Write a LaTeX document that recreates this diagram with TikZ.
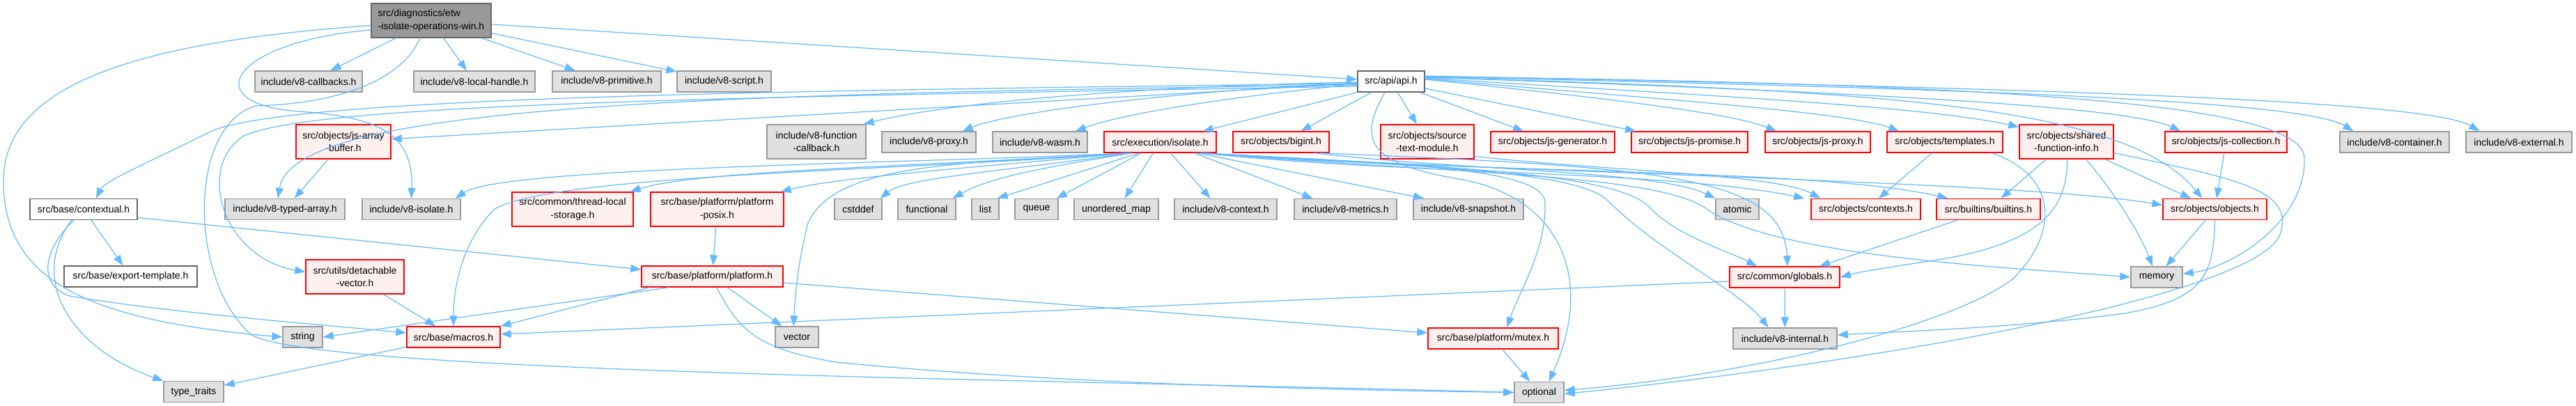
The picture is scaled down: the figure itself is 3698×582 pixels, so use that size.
\documentclass[tikz,border=0pt]{standalone}
\usepackage{fontspec}
\setmainfont{Liberation Sans}
\usetikzlibrary{arrows.meta}
\definecolor{edgec}{HTML}{63B8FF}
\definecolor{rfill}{HTML}{FFF0F0}
\definecolor{rborder}{HTML}{FF0000}
\definecolor{gfill}{HTML}{E0E0E0}
\definecolor{gborder}{HTML}{999999}
\definecolor{dborder}{HTML}{666666}
\definecolor{rootfill}{HTML}{999999}
\tikzset{
  nbase/.style={draw, line width=1.4pt, inner sep=0pt, font=\fontsize{14}{18.3}\selectfont, align=center, text=black},
  rn/.style={nbase, fill=rfill, draw=rborder},
  gn/.style={nbase, fill=gfill, draw=gborder},
  wn/.style={nbase, fill=white, draw=dborder},
  rootn/.style={nbase, fill=rootfill, draw=dborder, align=left},
  edge/.style={draw=edgec, line width=1.2pt, -{Triangle[length=15pt,width=11pt]}}
}
\newcommand\mknode[7]{\node[#1, minimum width=#5pt, minimum height=#6pt] (#2) at (#3,#4) {#7};}
\begin{document}
\begin{tikzpicture}[x=1pt,y=-1pt]
\useasboundingbox (0,0) rectangle (3698,582);
% row 0
\mknode{rootn}{etw}{619}{29.5}{172}{49}{src/diagnostics/etw\\-isolate-operations-win.h}
% row 1
\mknode{gn}{callbacks}{443}{117}{154}{30}{include/v8-callbacks.h}
\mknode{gn}{localhandle}{681}{117}{174}{30}{include/v8-local-handle.h}
\mknode{gn}{primitive}{871}{117}{156}{30}{include/v8-primitive.h}
\mknode{gn}{script}{1039.5}{117}{135}{30}{include/v8-script.h}
\mknode{wn}{api}{1997}{117}{96}{30}{src/api/api.h}
% row 2
\mknode{rn}{jsab}{493}{203.5}{136}{49}{src/objects/js-array\\-buffer.h}
\mknode{gn}{fcb}{1172}{203.5}{142}{49}{include/v8-function\\-callback.h}
\mknode{gn}{proxy}{1333.5}{204}{135}{30}{include/v8-proxy.h}
\mknode{gn}{wasm}{1493}{204}{136}{30}{include/v8-wasm.h}
\mknode{rn}{isolate}{1665.5}{204}{161}{30}{src/execution/isolate.h}
\mknode{rn}{bigint}{1839}{204}{138}{30}{src/objects/bigint.h}
\mknode{rn}{sourcetext}{2049}{203.5}{134}{49}{src/objects/source\\-text-module.h}
\mknode{rn}{jsgen}{2229}{204}{178}{30}{src/objects/js-generator.h}
\mknode{rn}{jspromise}{2425.5}{204}{167}{30}{src/objects/js-promise.h}
\mknode{rn}{jsproxy}{2609.5}{204}{151}{30}{src/objects/js-proxy.h}
\mknode{rn}{templates}{2792}{204}{166}{30}{src/objects/templates.h}
\mknode{rn}{sfi}{2966.5}{203.5}{135}{49}{src/objects/shared\\-function-info.h}
\mknode{rn}{jscoll}{3195.5}{204}{175}{30}{src/objects/js-collection.h}
\mknode{gn}{container}{3437.5}{204}{157}{30}{include/v8-container.h}
\mknode{gn}{external}{3616}{204}{152}{30}{include/v8-external.h}
% row 3
\mknode{wn}{contextual}{120}{300.5}{154}{30}{src/base/contextual.h}
\mknode{gn}{typedarray}{409}{300.5}{172}{30}{include/v8-typed-array.h}
\mknode{gn}{v8isolate}{590.5}{300.5}{141}{30}{include/v8-isolate.h}
\mknode{rn}{tls}{822}{300.5}{174}{49}{src/common/thread-local\\-storage.h}
\mknode{rn}{posix}{1029.5}{300.5}{191}{49}{src/base/platform/platform\\-posix.h}
\mknode{gn}{cstddef}{1232}{300.5}{68}{30}{cstddef}
\mknode{gn}{functional}{1330.5}{300.5}{83}{30}{functional}
\mknode{gn}{list}{1414.5}{300.5}{39}{30}{list}
\mknode{gn}{queue}{1488}{300.5}{62}{30}{queue}
\mknode{gn}{umap}{1602.5}{300.5}{121}{30}{unordered\_map}
\mknode{gn}{v8context}{1759.5}{300.5}{147}{30}{include/v8-context.h}
\mknode{gn}{metrics}{1931.5}{300.5}{147}{30}{include/v8-metrics.h}
\mknode{gn}{snapshot}{2108}{300.5}{158}{30}{include/v8-snapshot.h}
\mknode{gn}{atomic}{2494}{300.5}{62}{30}{atomic}
\mknode{rn}{contexts}{2678.5}{300.5}{157}{30}{src/objects/contexts.h}
\mknode{rn}{builtins}{2854.5}{300.5}{149}{30}{src/builtins/builtins.h}
\mknode{rn}{objects}{3179.5}{300.5}{149}{30}{src/objects/objects.h}
% row 4
\mknode{wn}{exporttemplate}{187.5}{397}{191}{30}{src/base/export-template.h}
\mknode{rn}{detachable}{509.5}{397.5}{141}{49}{src/utils/detachable\\-vector.h}
\mknode{rn}{platform}{1022.5}{397}{203}{30}{src/base/platform/platform.h}
\mknode{rn}{globals}{2562}{398}{158}{30}{src/common/globals.h}
\mknode{gn}{memory}{3096}{398}{74}{30}{memory}
% row 5
\mknode{gn}{string}{434.5}{484}{57}{30}{string}
\mknode{rn}{macros}{651}{484}{134}{30}{src/base/macros.h}
\mknode{gn}{vector}{1144}{484}{62}{30}{vector}
\mknode{rn}{mutex}{2143.5}{486}{187}{30}{src/base/platform/mutex.h}
\mknode{gn}{v8internal}{2562.5}{486}{149}{30}{include/v8-internal.h}
% row 6
\mknode{gn}{typetraits}{278}{562.5}{86}{30}{type\_traits}
\mknode{gn}{optional}{2209.5}{563.5}{71}{30}{optional}

% ---- edges from etw
\draw[edge] (etw) -- (callbacks);
\draw[edge] (etw) -- (localhandle);
\draw[edge] (etw) -- (primitive);
\draw[edge] (etw) -- (script);
\draw[edge] (etw) -- (api);
\draw[edge] ([yshift=-7pt]etw.west) .. controls (200,60) and (5,120) .. (5,260) .. controls (5,400) and (120,460) .. (string.west);
\draw[edge] ([yshift=-13.5pt]etw.west) .. controls (330,60) and (280,150) .. (430,160) .. controls (540,168) and (594,190) .. (v8isolate.north);
\draw[edge] ([xshift=-16pt]etw.south) .. controls (570,130) and (450,150) .. (367,152) .. controls (270,180) and (270,400) .. (360,480) .. controls (440,535) and (1500,545) .. (optional.west);

% ---- edges from api
\draw[edge] (api) -- (jsab);
\draw[edge] ([yshift=-5pt]api.west) .. controls (1000,135) and (420,150) .. ([xshift=-10pt]typedarray.north);
\draw[edge] ([yshift=-3pt]api.west) .. controls (1100,130) and (400,140) .. (300,190) .. controls (220,230) and (150,260) .. ([xshift=18pt]contextual.north);
\draw[edge] ([yshift=-7pt]api.west) .. controls (1000,140) and (450,150) .. (350,195) .. controls (280,240) and (320,370) .. ([yshift=7pt]detachable.west);
\draw[edge] ([yshift=-1pt]api.west) .. controls (1600,125) and (1350,150) .. ([xshift=-4pt]fcb.north east);
\draw[edge] ([yshift=-2pt]api.west) .. controls (1700,130) and (1450,160) .. ([xshift=-20pt]proxy.north east);
\draw[edge] ([yshift=-4pt]api.west) .. controls (1800,135) and (1620,160) .. ([xshift=-18pt]wasm.north east);
\draw[edge] (api.south west) -- ([xshift=-20pt]isolate.north east);
\draw[edge] (api) -- (bigint);
\draw[edge] (api) -- (sourcetext);
\draw[edge] (api) -- (jsgen);
\draw[edge] (api) -- (jspromise);
\draw[edge] ([yshift=3pt]api.east) .. controls (2250,135) and (2480,160) .. ([xshift=17pt]jsproxy.north west);
\draw[edge] ([yshift=4pt]api.east) .. controls (2350,140) and (2650,160) .. ([xshift=18pt]templates.north west);
\draw[edge] ([yshift=5pt]api.east) .. controls (2400,135) and (2750,150) .. ([yshift=-4pt]sfi.north west);
\draw[edge] ([yshift=6pt]api.east) .. controls (2600,130) and (3050,150) .. ([xshift=23pt]jscoll.north west);
\draw[edge] ([yshift=7pt]api.east) .. controls (2700,125) and (3300,140) .. ([xshift=20pt]container.north west);
\draw[edge] ([yshift=8pt]api.east) .. controls (2800,125) and (3480,140) .. ([xshift=20pt]external.north west);
\draw[edge] ([yshift=6pt]api.east) .. controls (2700,130) and (3050,150) .. ([xshift=-18pt]objects.north);
\draw[edge] ([yshift=7pt]api.east) .. controls (2900,120) and (3300,150) .. (3308,225) .. controls (3312,320) and (3200,385) .. ([yshift=5pt]memory.east);
\draw[edge] ([xshift=-9pt]api.south) .. controls (1950,200) and (1960,235) .. (2100,258) .. controls (2240,285) and (2290,400) .. ([xshift=14pt]optional.north);

% ---- edges from isolate
\draw[edge] ([xshift=-45pt]isolate.south) .. controls (1300,235) and (720,240) .. ([xshift=-8pt]v8isolate.north east);
\draw[edge] ([xshift=-45pt]isolate.south) .. controls (1300,245) and (800,250) .. (710,300) .. controls (670,340) and (651,400) .. (macros.north);
\draw[edge] ([xshift=-44pt]isolate.south) .. controls (1300,240) and (1000,245) .. ([xshift=-5pt]tls.north east);
\draw[edge] ([xshift=-43pt]isolate.south) .. controls (1400,240) and (1200,255) .. ([xshift=-5pt]posix.north east);
\draw[edge] ([xshift=-43pt]isolate.south) .. controls (1450,245) and (1300,255) .. ([xshift=-3pt]cstddef.north east);
\draw[edge] ([xshift=-40pt]isolate.south) .. controls (1500,240) and (1420,255) .. ([xshift=-5pt]functional.north east);
\draw[edge] ([xshift=-30pt]isolate.south) -- ([xshift=-3pt]list.north east);
\draw[edge] ([xshift=-27pt]isolate.south) -- ([xshift=-3pt]queue.north east);
\draw[edge] ([xshift=-10pt]isolate.south) -- ([xshift=12pt]umap.north);
\draw[edge] ([xshift=15pt]isolate.south) -- ([xshift=-22pt]v8context.north);
\draw[edge] ([xshift=49pt]isolate.south) -- ([xshift=-47pt]metrics.north);
\draw[edge] ([xshift=53pt]isolate.south) -- ([xshift=-64pt]snapshot.north);
\draw[edge] ([xshift=-45pt]isolate.south) .. controls (1400,235) and (1200,230) .. (1160,320) .. controls (1145,380) and (1142,420) .. ([xshift=-5pt]vector.north);
\draw[edge] ([xshift=60pt]isolate.south) .. controls (2000,250) and (2400,245) .. ([xshift=-9pt]contexts.north west);
\draw[edge] ([xshift=62pt]isolate.south) .. controls (2100,250) and (2600,240) .. ([xshift=17pt]builtins.north west);
\draw[edge] ([xshift=63pt]isolate.south) .. controls (2200,250) and (2900,260) .. ([yshift=6pt]objects.west);
\draw[edge] ([xshift=58pt]isolate.south) .. controls (2100,250) and (2380,250) .. (2450,300) .. controls (2550,370) and (2900,385) .. (memory.west);
\draw[edge] ([xshift=61pt]isolate.south) .. controls (2100,240) and (2330,250) .. (2370,300) .. controls (2410,340) and (2480,360) .. ([xshift=-40pt]globals.north);
\draw[edge] ([xshift=59pt]isolate.south) .. controls (2050,240) and (2270,245) .. (2310,290) .. controls (2380,360) and (2500,420) .. ([xshift=-24pt]v8internal.north);
\draw[edge] ([xshift=57pt]isolate.south) .. controls (2000,235) and (2215,240) .. (2218,290) .. controls (2220,360) and (2180,420) .. ([xshift=20pt]mutex.north);

% ---- bigint, sourcetext
\draw[edge] ([xshift=48pt]bigint.south) .. controls (2100,245) and (2380,245) .. (atomic.north west);
\draw[edge] ([xshift=55pt]bigint.south) .. controls (2400,240) and (2560,255) .. ([xshift=4pt]globals.north);
\draw[edge] ([yshift=-21pt]sourcetext.east) .. controls (2300,245) and (2550,250) .. ([xshift=14pt]contexts.north west);

% ---- templates, sfi, jscoll, objects, builtins
\draw[edge] (templates) -- (contexts);
\draw[edge] ([xshift=67pt]templates.south) .. controls (2950,250) and (2960,330) .. (2890,400) .. controls (2800,470) and (2500,540) .. ([yshift=3pt]optional.east);
\draw[edge] (sfi) -- (builtins);
\draw[edge] (sfi) -- (objects);
\draw[edge] ([xshift=28pt]sfi.south) .. controls (3030,270) and (3070,330) .. ([xshift=-6pt]memory.north);
\draw[edge] ([xshift=1pt]sfi.south) .. controls (2968,300) and (2930,345) .. (2800,370) .. controls (2720,383) and (2680,388) .. (globals.east);
\draw[edge] ([yshift=-16pt]sfi.east) .. controls (3200,255) and (3290,270) .. (3275,330) .. controls (3265,420) and (2700,520) .. ([yshift=-2pt]optional.east);
\draw[edge] (jscoll) -- (objects);
\draw[edge] (objects) -- (memory);
\draw[edge] (objects.south) .. controls (3178,400) and (3160,430) .. (3050,450) .. controls (2900,470) and (2750,475) .. ([yshift=5pt]v8internal.east);
\draw[edge] ([xshift=-45pt]builtins.south) -- ([xshift=50pt]globals.north);

% ---- lower part
\draw[edge] (jsab) -- (typedarray);
\draw[edge] (contextual) -- (exporttemplate);
\draw[edge] ([yshift=-12pt]contextual.east) -- ([yshift=10pt]platform.west);
\draw[edge] ([xshift=-14pt]contextual.south) .. controls (60,360) and (55,410) .. (100,425) .. controls (250,450) and (450,465) .. ([yshift=6pt]macros.west);
\draw[edge] ([xshift=-17pt]contextual.south) .. controls (40,400) and (100,500) .. (typetraits.north west);
\draw[edge] (detachable) -- (macros);
\draw[edge] (macros) -- (typetraits);
\draw[edge] ([xshift=-62pt]platform.south) -- (string.east);
\draw[edge] ([xshift=-90pt]platform.south) -- (macros.north east);
\draw[edge] ([yshift=-6pt]globals.west) -- ([yshift=4pt]macros.east);
\draw[edge] (platform) -- (vector);
\draw[edge] ([xshift=6pt]platform.south) .. controls (1060,470) and (1080,500) .. (1200,520) .. controls (1500,550) and (1900,560) .. (optional.west);
\draw[edge] ([yshift=-9pt]platform.east) -- ([yshift=8pt]mutex.west);
\draw[edge] (posix) -- (platform);
\draw[edge] (mutex) -- (optional);
\draw[edge] (globals) -- (v8internal);
\end{tikzpicture}
\end{document}
